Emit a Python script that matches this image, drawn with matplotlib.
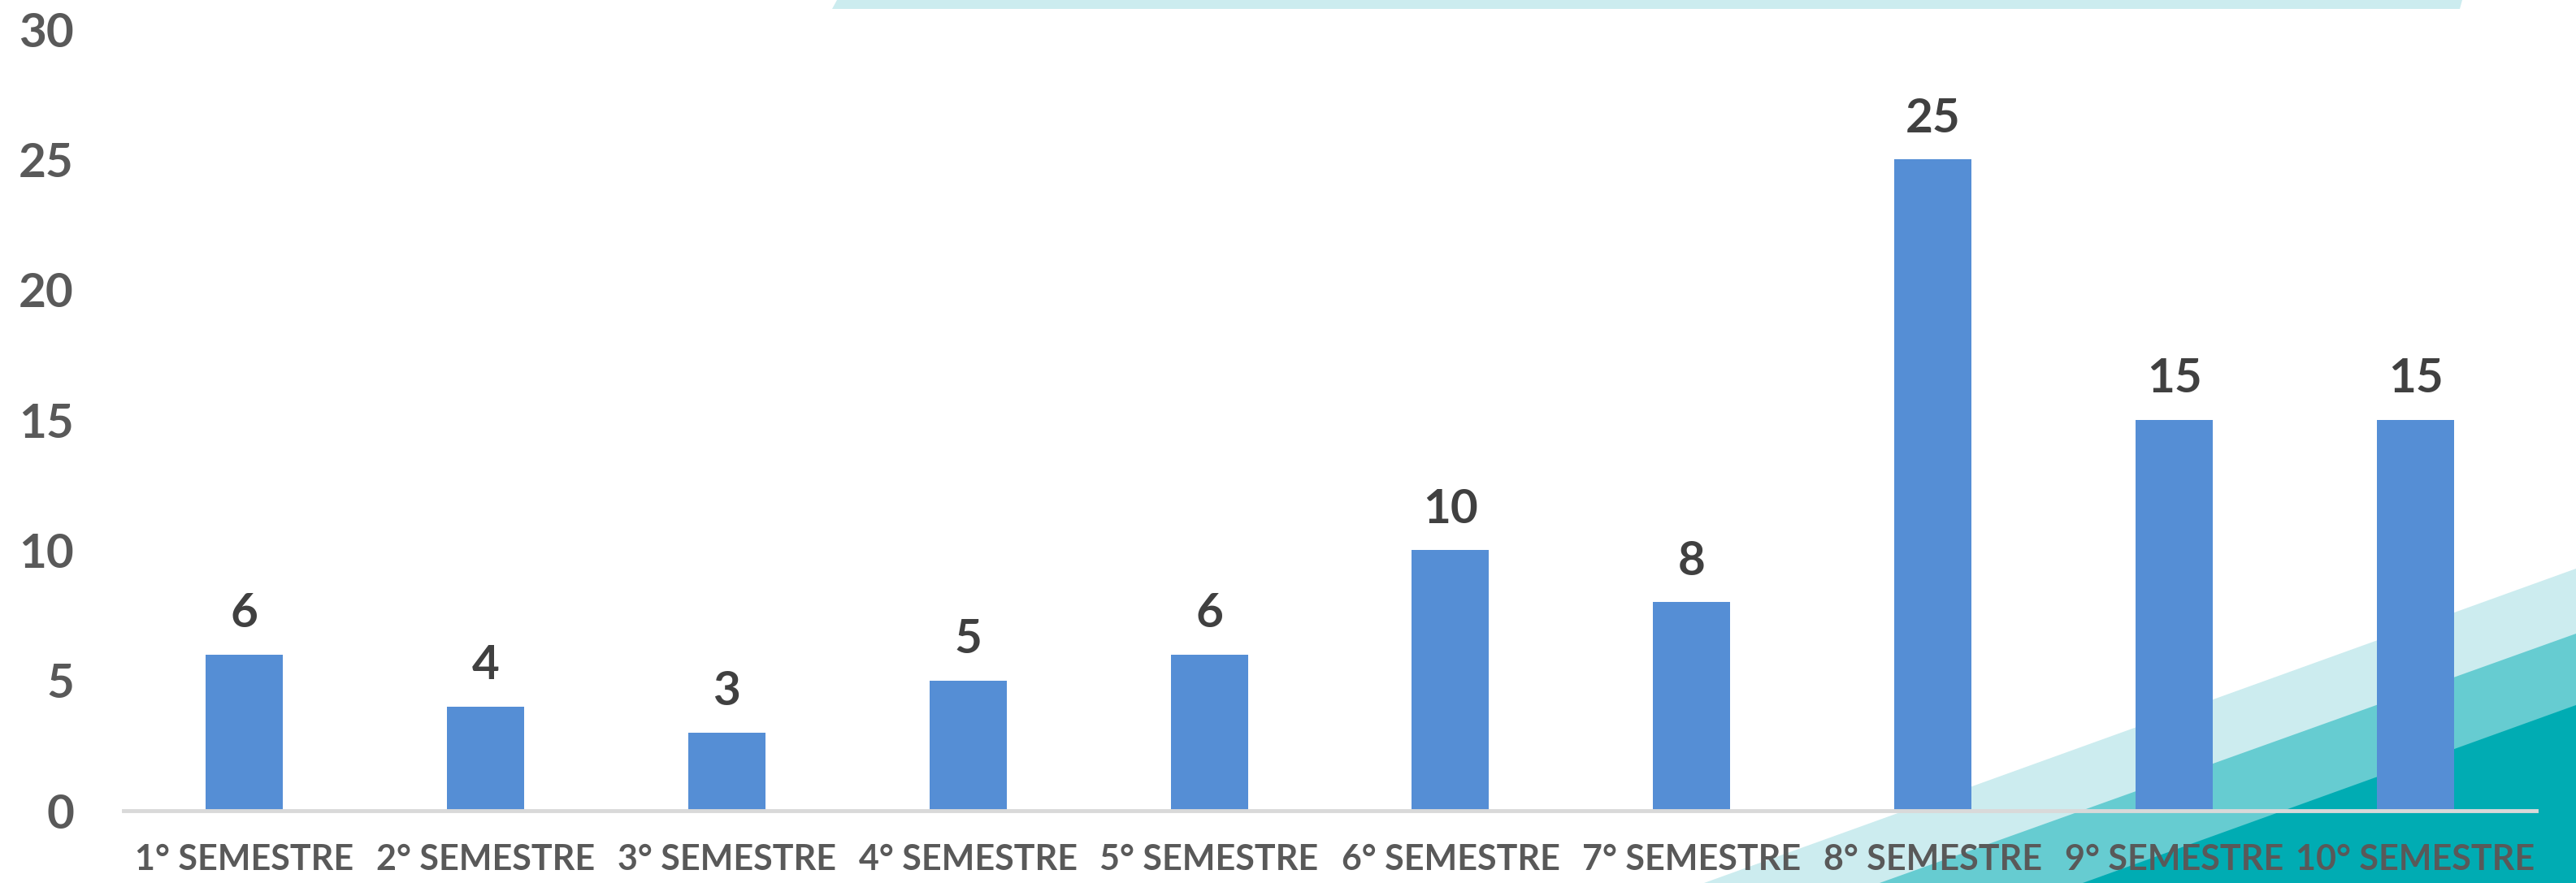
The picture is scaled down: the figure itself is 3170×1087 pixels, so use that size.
import matplotlib
matplotlib.use("Agg")
import matplotlib.pyplot as plt
from matplotlib.patches import Polygon

# datos
semestres = ["1° SEMESTRE", "2° SEMESTRE", "3° SEMESTRE", "4° SEMESTRE", "5° SEMESTRE",
             "6° SEMESTRE", "7° SEMESTRE", "8° SEMESTRE", "9° SEMESTRE", "10° SEMESTRE"]
valores = [6, 4, 3, 5, 6, 10, 8, 25, 15, 15]
y_ticks = [0, 5, 10, 15, 20, 25, 30]

W, H = 3170, 1087
fig = plt.figure(figsize=(W / 100, H / 100), dpi=100)
fig.patch.set_facecolor("white")

# decoracion de fondo (pixeles de la figura)
def fondo(pts, color):
    p = Polygon([(x / W, 1 - y / H) for x, y in pts], closed=True,
                transform=fig.transFigure, facecolor=color, edgecolor="none", zorder=-5)
    fig.patches.append(p)

fondo([(1030, 0), (3030, 0), (3027, 11), (1024, 11)], "#CCECEF")
fondo([(2097, 1087), (3170, 700), (3170, 1087)], "#CCECEF")
fondo([(2313, 1087), (3170, 780), (3170, 1087)], "#66CCD1")
fondo([(2563, 1087), (3170, 868), (3170, 1087)], "#00ACB3")

ax = fig.add_axes([152 / W, 1 - 998 / H, (3121 - 152) / W, (998 - 36) / H])
ax.set_facecolor("none")

x = range(len(semestres))
bars = ax.bar(x, valores, width=0.32, color="#558ED5", zorder=3)

for b, v in zip(bars, valores):
    ax.annotate(str(v), (b.get_x() + b.get_width() / 2, v), xytext=(0, 17),
                textcoords="offset points", ha="center", va="bottom",
                fontsize=42, fontweight="bold", color="#404040",
                family=["Lato", "DejaVu Sans"])

ax.set_xlim(-0.5, len(semestres) - 0.5)
ax.set_ylim(0, 30)
ax.set_yticks(y_ticks)
ax.set_yticklabels([str(t) for t in y_ticks], fontsize=42, fontweight="bold",
                   color="#595959", family=["Lato", "DejaVu Sans"])
ax.set_xticks(list(x))
ax.set_xticklabels(semestres, fontsize=31, fontweight="bold", color="#595959",
                   family=["Lato", "DejaVu Sans"])
ax.tick_params(axis="y", length=0, pad=44)
ax.tick_params(axis="x", length=0, pad=29)

for s in ["top", "right", "left"]:
    ax.spines[s].set_visible(False)
ax.spines["bottom"].set_color("#D9D9D9")
ax.spines["bottom"].set_linewidth(3.5)
ax.spines["bottom"].set_zorder(4)

fig.savefig("out.png", dpi=100)
